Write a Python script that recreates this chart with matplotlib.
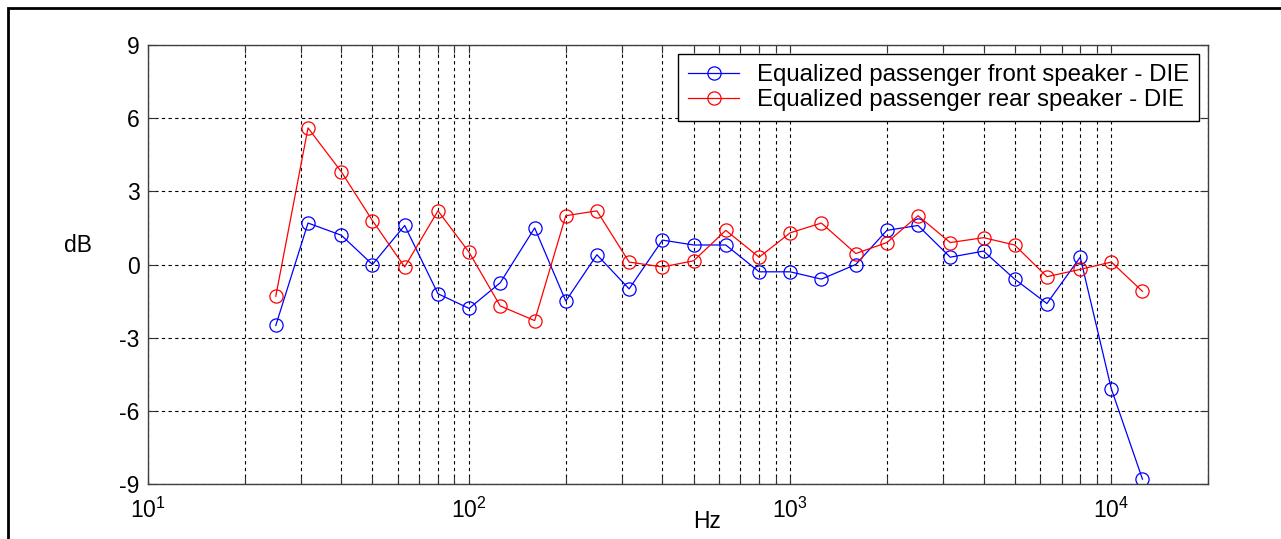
import matplotlib
matplotlib.use("Agg")
import matplotlib.pyplot as plt
from matplotlib.ticker import LogLocator, FixedLocator
from matplotlib.patches import Rectangle

plt.rcParams['font.family'] = ['Liberation Sans', 'DejaVu Sans']
plt.rcParams['mathtext.fontset'] = 'custom'
plt.rcParams['mathtext.rm'] = 'Liberation Sans'
plt.rcParams['mathtext.it'] = 'Liberation Sans'
plt.rcParams['mathtext.bf'] = 'Liberation Sans'
plt.rcParams['axes.unicode_minus'] = False

freqs = [25, 31.5, 40, 50, 63, 80, 100, 125, 160, 200, 250, 315, 400, 500,
         630, 800, 1000, 1250, 1600, 2000, 2500, 3150, 4000, 5000, 6300,
         8000, 10000, 12500]
front = [-2.5, 1.7, 1.2, 0.0, 1.6, -1.2, -1.8, -0.75, 1.5, -1.5, 0.4, -1.0,
         1.0, 0.8, 0.8, -0.3, -0.3, -0.6, 0.0, 1.4, 1.6, 0.3, 0.55, -0.6,
         -1.6, 0.3, -5.1, -8.8]
rear = [-1.3, 5.6, 3.8, 1.8, -0.1, 2.2, 0.5, -1.7, -2.3, 2.0, 2.2, 0.1,
        -0.1, 0.15, 1.4, 0.3, 1.3, 1.7, 0.45, 0.9, 2.0, 0.9, 1.1, 0.8,
        -0.5, -0.2, 0.1, -1.1]
label_front = "Equalized passenger front speaker - DIE"
label_rear = "Equalized passenger rear speaker - DIE"
yticks = [-9, -6, -3, 0, 3, 6, 9]

W, H = 1281, 539
fig = plt.figure(figsize=(W / 100, H / 100), dpi=100)
ax = fig.add_axes([148 / W, 1 - 484 / H, 1060 / W, 439 / H])

ax.plot(freqs, front, color='#0000ff', lw=0.9, marker='o', ms=9.5,
        mfc='none', mec='#0000ff', mew=0.9, label=label_front)
ax.plot(freqs, rear, color='#ff0000', lw=0.9, marker='o', ms=9.5,
        mfc='none', mec='#ff0000', mew=0.9, label=label_rear)

ax.set_xscale('log')
ax.set_xlim(10, 20000)
ax.set_ylim(-9, 9)
ax.yaxis.set_major_locator(FixedLocator(yticks))
ax.xaxis.set_major_locator(LogLocator(base=10, numticks=10))
ax.xaxis.set_minor_locator(LogLocator(base=10, subs=range(2, 10), numticks=20))
ax.xaxis.set_minor_formatter(plt.NullFormatter())

grid_kw = dict(color='black', linestyle=(0, (3, 3)), linewidth=0.8)
ax.grid(True, which='major', axis='both', **grid_kw)
ax.grid(True, which='minor', axis='x', **grid_kw)
ax.set_axisbelow(True)

ax.tick_params(which='both', direction='in', top=True, right=True,
               length=6, width=0.8, color='#333333', labelsize=16.5)
ax.tick_params(axis='y', pad=6)
ax.tick_params(axis='x', pad=10)
for s in ax.spines.values():
    s.set_color('#404040')
    s.set_linewidth(1.0)

fig.text(78 / W, 1 - 245 / H, 'dB', fontsize=16.5, ha='center', va='center')
fig.text(707 / W, 1 - 521 / H, 'Hz', fontsize=16.5, ha='center', va='center')

leg = ax.legend(loc='upper right', bbox_to_anchor=(1199 / W, 1 - 54 / H),
                bbox_transform=fig.transFigure, borderaxespad=0,
                fontsize=17.3, frameon=True, fancybox=False, framealpha=1,
                edgecolor='black', handlelength=2.1, handletextpad=0.75,
                labelspacing=0.12, borderpad=0.42)
leg.get_frame().set_linewidth(1.0)

fig.patches.append(Rectangle((8 / W, -0.1), 1.2, 1 - 8 / H + 0.1,
                             transform=fig.transFigure, fill=False,
                             edgecolor='black', linewidth=2.0, zorder=10))

fig.savefig('out.png', dpi=100)
